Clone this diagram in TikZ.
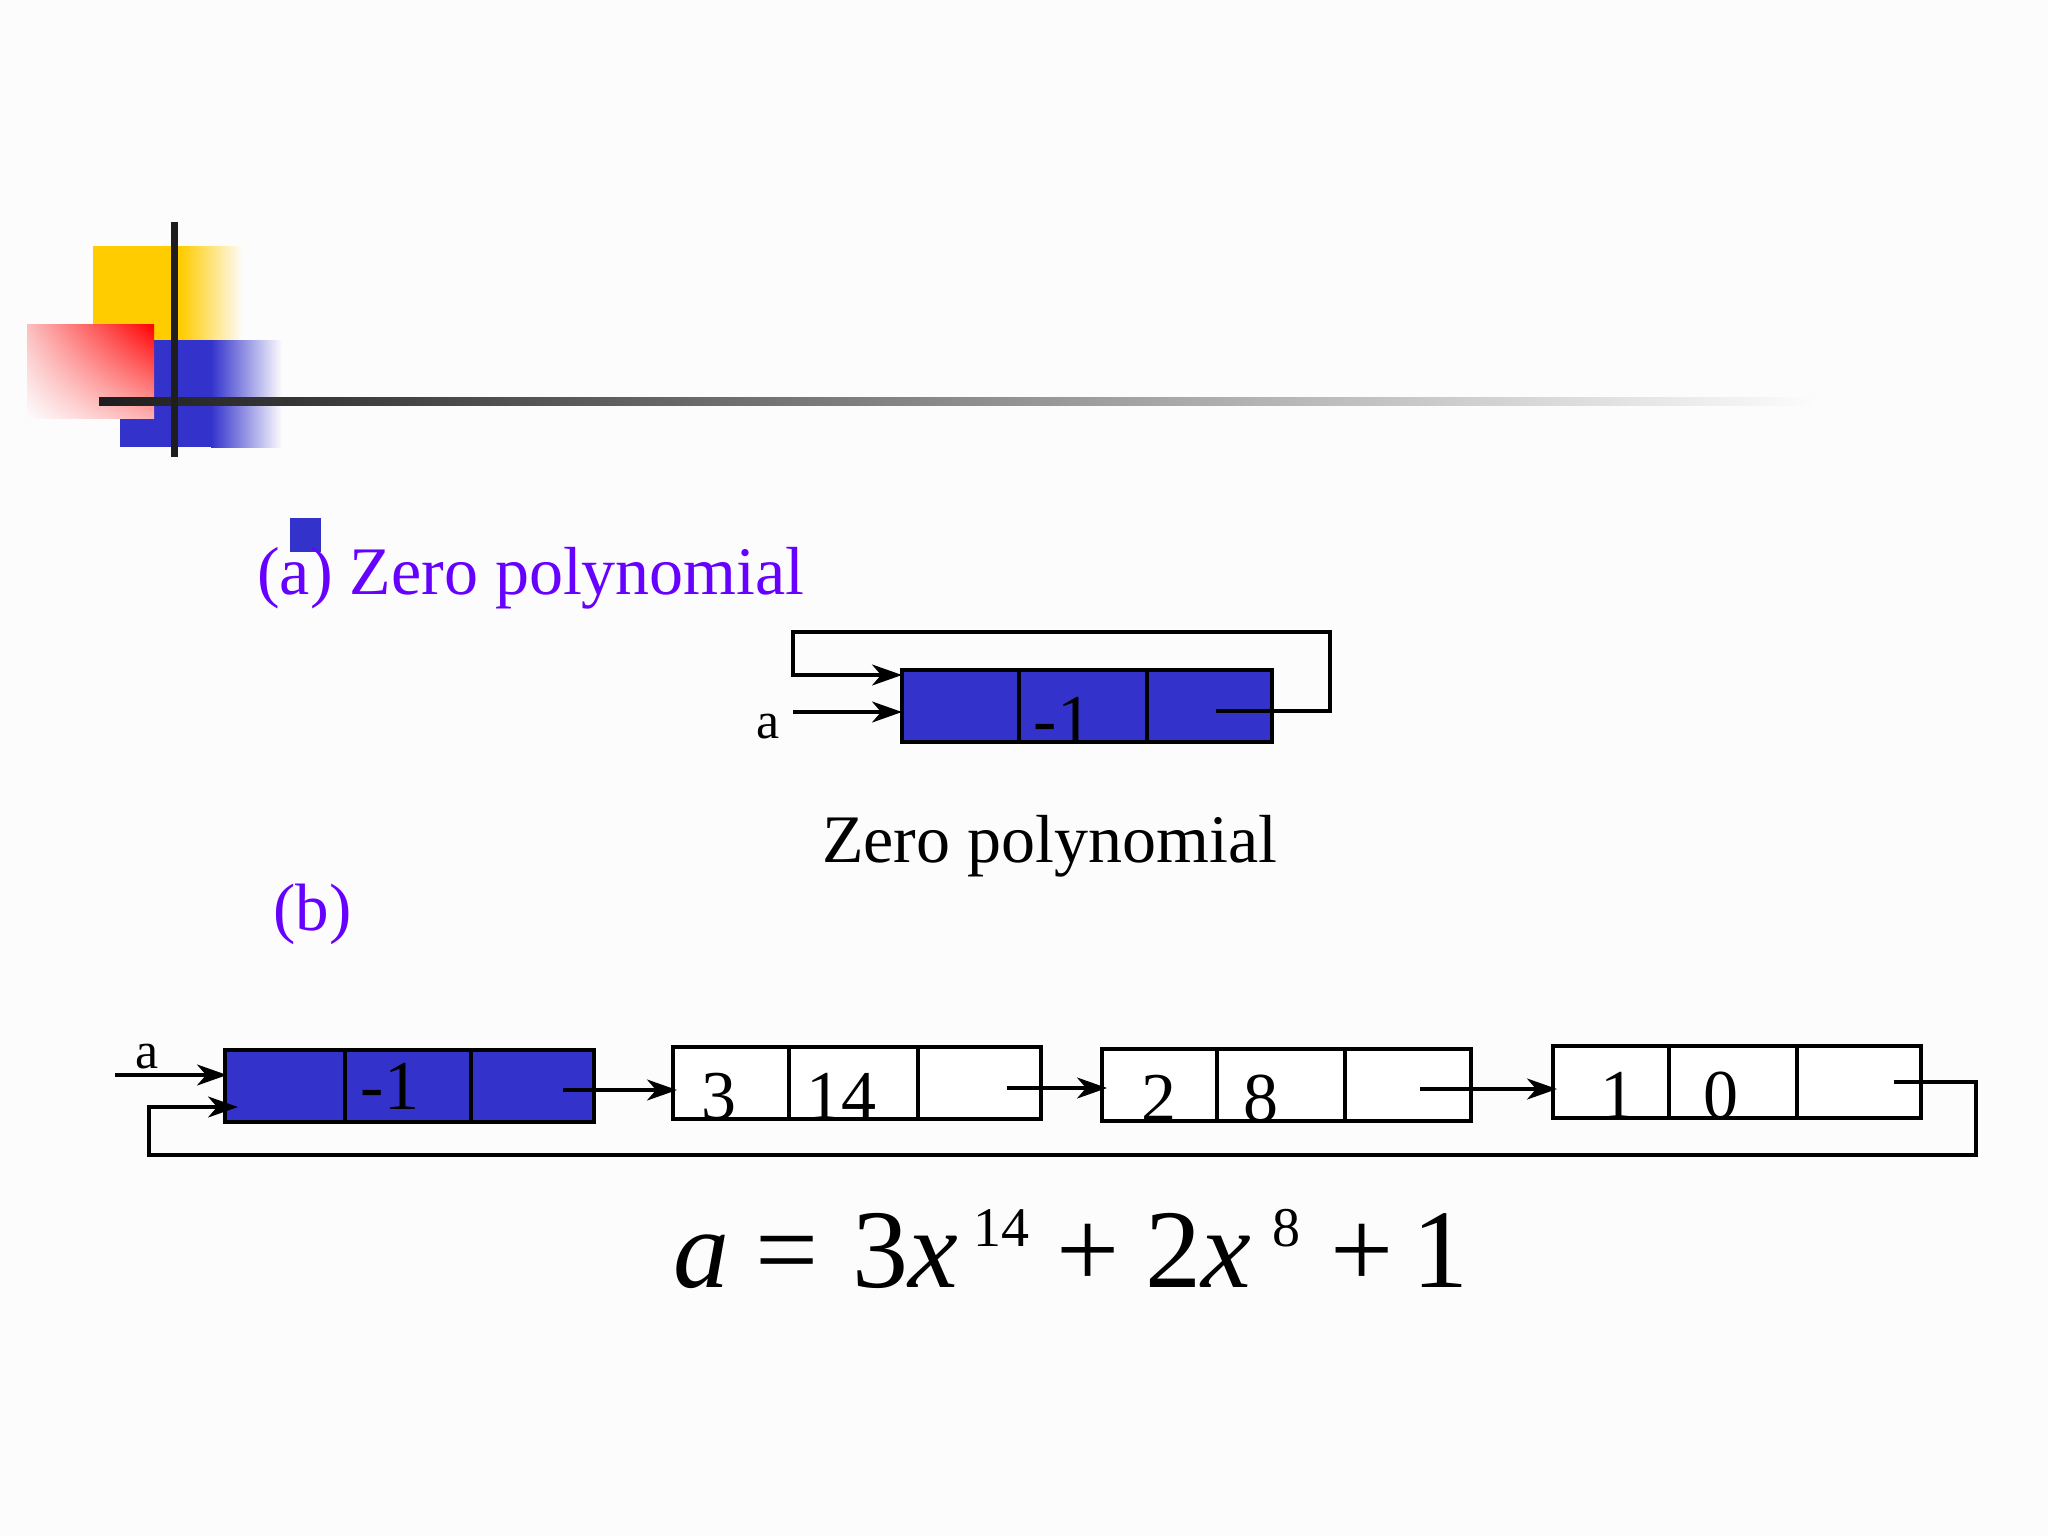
\documentclass[tikz,border=0pt]{standalone}
\usepackage{fontspec}
\setmainfont{Liberation Serif}
\usetikzlibrary{arrows.meta,shadings}
\definecolor{bg}{RGB}{253,252,253}
\definecolor{boxblue}{RGB}{51,51,204}
\definecolor{purp}{RGB}{102,0,255}
\definecolor{gold}{RGB}{255,204,0}
\definecolor{barblack}{RGB}{30,30,30}
\definecolor{bargray}{RGB}{70,70,70}
\definecolor{pinkA}{RGB}{252,190,190}
\definecolor{pinkB}{RGB}{255,175,175}
\begin{document}
\begin{tikzpicture}[x=1pt,y=-1pt,
  cellb/.style={draw=black,line width=3.2pt,fill=boxblue,minimum height=72pt,inner sep=0pt,outer sep=0pt,anchor=north west},
  cellw/.style={cellb,fill=white},
  lnk/.style={line width=3.1pt},
  arr/.style={lnk,-{Stealth[length=30pt,width=21pt,inset=9pt]}},
  lbl/.style={inner sep=0pt,anchor=base,font=\fontsize{52}{60}\selectfont},
  num/.style={inner sep=0pt,anchor=base,font=\fontsize{70}{80}\selectfont},
  title/.style={inner sep=0pt,anchor=base west,font=\fontsize{68}{80}\selectfont}
]
% background
\fill[bg] (0,0) rectangle (2048,1536);
\useasboundingbox (0,0) rectangle (2048,1536);

% decoration
\fill[gold] (93,246) rectangle (182,342);
\shade[left color=gold,right color=bg] (181,246) rectangle (243,342);
\fill[boxblue] (120,340) rectangle (212,447);
\shade[left color=boxblue,right color=bg] (211,340) rectangle (282,447);
\shade[upper right=red,upper left=pinkA,lower right=pinkB,lower left=bg]
  (27,324) rectangle (154,418);
\shade[left color=barblack,right color=bargray] (99,397) rectangle (420,405);
\shade[left color=bargray,right color=bg] (419,397) rectangle (1815,405);
\fill[barblack] (170.5,222) rectangle (177.5,457);

% (a)
\fill[boxblue] (290,518) rectangle (321,552);
\node[title,text=purp] (ta) at (257,594) {(a) Zero polynomial};

\node[cellb,minimum width=117pt] (a1) at (902,670) {};
\node[cellb,minimum width=128pt] (a2) at (1019,670) {};
\node[cellb,minimum width=125pt] (a3) at (1147,670) {};
\node[num] (ta2) at (1063,743) {-1};
\node[lbl] (la) at (768,738) {a};
\coordinate (aStart) at (793,712);
\coordinate (aLoopR) at (1330,632);
\coordinate (aLoopL) at (793,632);
\draw[arr] (aStart) -- (aStart -| a1.west);
\draw[arr] ([xshift=6pt,yshift=-5pt]a3.center) -| (aLoopR) -- (aLoopL) |- ([yshift=31pt]a1.west);

\node[title] (zp) at (822,862) {Zero polynomial};

% (b)
\node[title,text=purp,font=\fontsize{67}{80}\selectfont] (tb) at (273,930) {(b)};

\node[cellb,minimum width=120pt] (b1a) at (225,1050) {};
\node[cellb,minimum width=126pt] (b1b) at (345,1050) {};
\node[cellb,minimum width=123pt] (b1c) at (471,1050) {};
\node[cellw,minimum width=116pt] (b2a) at (673,1047) {};
\node[cellw,minimum width=129pt] (b2b) at (789,1047) {};
\node[cellw,minimum width=123pt] (b2c) at (918,1047) {};
\node[cellw,minimum width=115pt] (b3a) at (1102,1049) {};
\node[cellw,minimum width=128pt] (b3b) at (1217,1049) {};
\node[cellw,minimum width=126pt] (b3c) at (1345,1049) {};
\node[cellw,minimum width=116pt] (b4a) at (1553,1046) {};
\node[cellw,minimum width=128pt] (b4b) at (1669,1046) {};
\node[cellw,minimum width=124pt] (b4c) at (1797,1046) {};

\node[num] (n1) at (390,1109) {-1};
\node[num] (n2) at (719,1119) {3};
\node[num] (n3) at (841,1119) {14};
\node[num] (n4) at (1159,1121) {2};
\node[num] (n5) at (1261,1121) {8};
\node[num] (n6) at (1618,1118) {1};
\node[num] (n7) at (1721,1118) {0};

\node[lbl] (lb) at (147,1068) {a};
\coordinate (bStart) at (115,1075);
\draw[arr] (bStart) -- ([xshift=2pt]bStart -| b1a.west);
\draw[arr] ([xshift=30pt,yshift=-4pt]b1c.center) -- ([xshift=4pt,yshift=-4pt]b1c.center -| b2a.west);
\draw[arr] ([xshift=27pt,yshift=-5pt]b2c.center) -- ([xshift=5pt,yshift=-5pt]b2c.center -| b3a.west);
\draw[arr] ([xshift=12pt,yshift=-4pt]b3c.center) -- ([xshift=4pt,yshift=-4pt]b3c.center -| b4a.west);
\coordinate (bCornerR) at (1976,1155);
\coordinate (bCornerL) at (149,1155);
\draw[arr] ([xshift=35pt]b4c.center) -| (bCornerR) -- (bCornerL) |- ([xshift=13pt,yshift=-21pt]b1a.west);

% equation
\node[inner sep=0pt,anchor=base west,font=\fontsize{112}{120}\selectfont] (eq) at (673,1287)
 {\textit{a}\kern26pt{=}\kern34pt{3}\textit{x}\kern15pt\raisebox{41pt}{\fontsize{56}{60}\selectfont 14}\kern27pt{+}\kern26pt{2}\textit{x}\kern22pt\raisebox{41pt}{\fontsize{56}{60}\selectfont 8}\kern30pt{+}\kern18pt{1}};
\end{tikzpicture}
\end{document}
